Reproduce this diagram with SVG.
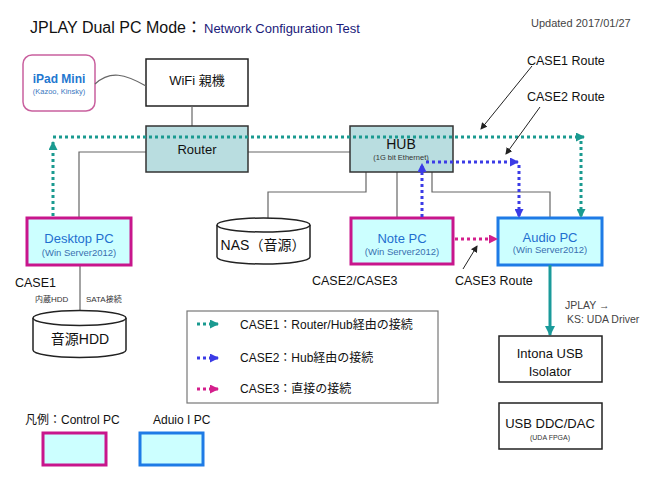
<svg xmlns="http://www.w3.org/2000/svg" width="650" height="488" viewBox="0 0 650 488">
<defs>
<style>
text{font-family:"Liberation Sans","Noto Sans CJK JP",Arial,sans-serif;fill:#111}
.box{fill:#fff;stroke:#222;stroke-width:1.5}
.net{fill:#b9dde0;stroke:#333;stroke-width:1.5}
.ctl{fill:#ccffff;stroke:#c8168c;stroke-width:3}
.aud{fill:#ccffff;stroke:#1e7be6;stroke-width:3}
.wire{fill:none;stroke:#666;stroke-width:1.2}
.c1{fill:none;stroke:#1a9a90;stroke-width:3;stroke-dasharray:3 3}
.c2{fill:none;stroke:#3b3be6;stroke-width:3;stroke-dasharray:3 3}
.c3{fill:none;stroke:#d41f8c;stroke-width:3;stroke-dasharray:3 3}
.ptr{fill:none;stroke:#222;stroke-width:1}
.pc{fill:#1f6fcf;font-size:13px}
.sub{fill:#3a6fb0;font-size:9.5px}
.lbl{font-size:12.5px}
.cyl{fill:#fff;stroke:#222;stroke-width:1.5}
</style>
<marker id="a1" markerUnits="userSpaceOnUse" markerWidth="9" markerHeight="9" refX="8" refY="4.5" orient="auto"><path d="M0,0 L9,4.5 L0,9 z" fill="#1a9a90"/></marker>
<marker id="a2" markerUnits="userSpaceOnUse" markerWidth="9" markerHeight="9" refX="8" refY="4.5" orient="auto"><path d="M0,0 L9,4.5 L0,9 z" fill="#3b3be6"/></marker>
<marker id="a3" markerUnits="userSpaceOnUse" markerWidth="9" markerHeight="9" refX="8" refY="4.5" orient="auto"><path d="M0,0 L9,4.5 L0,9 z" fill="#d41f8c"/></marker>
<marker id="ak" markerUnits="userSpaceOnUse" markerWidth="7" markerHeight="7" refX="6" refY="3.5" orient="auto"><path d="M0,0 L7,3.5 L0,7 z" fill="#222"/></marker>
<marker id="at" markerUnits="userSpaceOnUse" markerWidth="10" markerHeight="10" refX="9" refY="5" orient="auto"><path d="M0,0 L10,5 L0,10 z" fill="#1a9a9a"/></marker>
</defs>
<rect width="650" height="488" fill="#fff"/>

<g id="title">
<text x="30" y="33" style="font-size:16px">JPLAY Dual PC Mode：</text>
<text x="204" y="33" style="font-size:13px;fill:#1a1a7a">Network Configuration Test</text>
<text x="531" y="27" style="font-size:11px;fill:#444">Updated 2017/01/27</text>
</g>

<g id="ipad">
<rect x="23" y="55" width="72" height="56" rx="9" fill="#fff" stroke="#c9609e" stroke-width="1.5"/>
<text x="59" y="83" text-anchor="middle" style="font-size:12px;font-weight:bold;fill:#1f78d0">iPad Mini</text>
<text x="59" y="94" text-anchor="middle" style="font-size:7.5px;fill:#3a78c0">(Kazoo, Kinsky)</text>
</g>

<g id="wifi">
<rect class="box" x="146" y="59" width="102" height="47"/>
<text x="197" y="85" text-anchor="middle" style="font-size:13px">WiFi 親機</text>
</g>

<g id="connectors">
<path class="wire" d="M95,84 C110,70 125,74 146,86"/>
<path class="wire" d="M192,106 V126"/>
<path class="wire" d="M248,152 H350"/>
<path class="wire" d="M146,152 H79 V218"/>
<path class="wire" d="M366,172 V192 H268 V218"/>
<path class="wire" d="M397,172 V218"/>
<path class="wire" d="M432,172 V192 H550 V218"/>
<path class="wire" d="M80,265 V311"/>
</g>

<g id="router">
<rect class="net" x="146" y="126" width="102" height="46"/>
<text x="197" y="154" text-anchor="middle" style="font-size:13px">Router</text>
</g>

<g id="hub">
<rect class="net" x="350" y="126" width="103" height="46"/>
<text x="401" y="149" text-anchor="middle" style="font-size:14px">HUB</text>
<text x="401" y="160" text-anchor="middle" style="font-size:7.5px;fill:#333">(1G bit Ethernet)</text>
</g>

<g id="desktop-pc">
<rect class="ctl" x="27" y="218" width="104" height="47"/>
<text class="pc" x="79" y="243" text-anchor="middle">Desktop PC</text>
<text class="sub" x="79" y="256" text-anchor="middle">(Win Server2012)</text>
</g>

<g id="nas">
<path class="cyl" d="M217,225 V257 A46.5,7 0 0,0 310,257 V225"/>
<ellipse class="cyl" cx="263.5" cy="225" rx="46.5" ry="7"/>
<text x="263" y="250" text-anchor="middle" style="font-size:14px">NAS（音源）</text>
</g>

<g id="note-pc">
<rect class="ctl" x="351" y="218" width="102" height="46"/>
<text class="pc" x="402" y="243" text-anchor="middle">Note PC</text>
<text class="sub" x="402" y="255" text-anchor="middle">(Win Server2012)</text>
</g>

<g id="audio-pc">
<rect class="aud" x="498" y="218" width="104" height="47"/>
<text class="pc" x="550" y="242" text-anchor="middle">Audio PC</text>
<text class="sub" x="550" y="253" text-anchor="middle">(Win Server2012)</text>
</g>

<g id="hdd">
<path class="cyl" d="M33,318 V350 A46.5,7.5 0 0,0 126,350 V318"/>
<ellipse class="cyl" cx="79.5" cy="318" rx="46.5" ry="7.5"/>
<text x="80" y="344" text-anchor="middle" style="font-size:14px">音源HDD</text>
</g>

<g id="routes">
<path class="c1" d="M53,216 V142" marker-end="url(#a1)"/>
<path class="c1" d="M53,137 H584" marker-end="url(#a1)"/>
<path class="c1" d="M581,141 V217" marker-end="url(#a1)"/>
<path class="c2" d="M422,217 V164" marker-end="url(#a2)"/>
<path class="c2" d="M426,162 H518" marker-end="url(#a2)"/>
<path class="c2" d="M519,165 V217" marker-end="url(#a2)"/>
<path class="c3" d="M455,239 H497" marker-end="url(#a3)"/>
<path d="M550,265 V335" stroke="#1a9a9a" stroke-width="3" fill="none" marker-end="url(#at)"/>
<path class="ptr" d="M532,66 L481,129" marker-end="url(#ak)"/>
<path class="ptr" d="M540,107 L506,154" marker-end="url(#ak)"/>
<path class="ptr" d="M463,269 L477,246" marker-end="url(#ak)"/>
</g>

<g id="labels">
<text class="lbl" x="527" y="65">CASE1 Route</text>
<text class="lbl" x="527" y="101">CASE2 Route</text>
<text class="lbl" x="455" y="285">CASE3 Route</text>
<text class="lbl" x="312" y="285">CASE2/CASE3</text>
<text class="lbl" x="15" y="287">CASE1</text>
<text x="35" y="302" style="font-size:8px;fill:#333">内蔵HDD</text>
<text x="86" y="302" style="font-size:8px;fill:#333">SATA接続</text>
<text x="565" y="309" style="font-size:10.5px;fill:#444">JPLAY →</text>
<text x="567" y="323" style="font-size:10.5px;fill:#444">KS: UDA Driver</text>
</g>

<g id="intona">
<rect class="box" x="499" y="336" width="103" height="46"/>
<text x="550" y="358" text-anchor="middle" style="font-size:13px">Intona USB</text>
<text x="550" y="376" text-anchor="middle" style="font-size:13px">Isolator</text>
</g>

<g id="dac">
<rect class="box" x="499" y="403" width="103" height="46"/>
<text x="550" y="428" text-anchor="middle" style="font-size:13px">USB DDC/DAC</text>
<text x="550" y="440" text-anchor="middle" style="font-size:7px;fill:#333">(UDA FPGA)</text>
</g>

<g id="legend">
<rect x="187" y="311" width="251" height="92" fill="#fff" stroke="#777" stroke-width="1.2"/>
<path class="c1" d="M197,324 H218" stroke-width="2.5" stroke-dasharray="2.5 2.5" marker-end="url(#a1)"/>
<text x="240" y="329" style="font-size:12px">CASE1：Router/Hub経由の接続</text>
<path class="c2" d="M197,358 H218" stroke-width="2.5" stroke-dasharray="2.5 2.5" marker-end="url(#a2)"/>
<text x="240" y="362" style="font-size:12px">CASE2：Hub経由の接続</text>
<path class="c3" d="M197,389 H218" stroke-width="2.5" stroke-dasharray="2.5 2.5" marker-end="url(#a3)"/>
<text x="240" y="393" style="font-size:12px">CASE3：直接の接続</text>
</g>

<g id="key">
<text x="25" y="424" style="font-size:12px">凡例：Control PC</text>
<text x="153" y="424" style="font-size:12px">Aduio I PC</text>
<rect class="ctl" x="43" y="433" width="63" height="32"/>
<rect class="aud" x="140" y="433" width="63" height="32"/>
</g>
</svg>
